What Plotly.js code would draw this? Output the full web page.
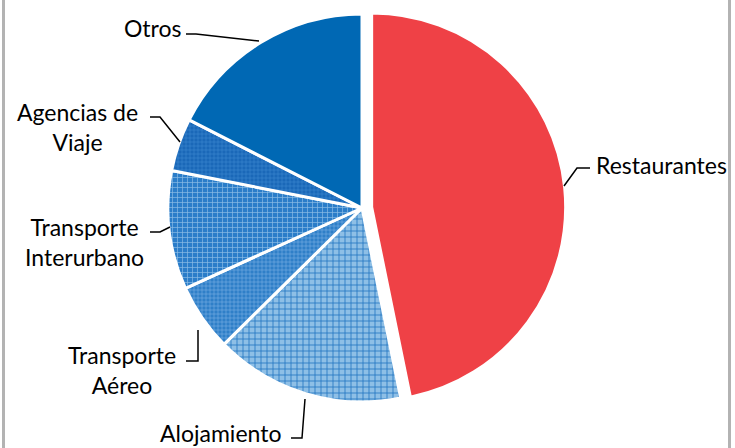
<!DOCTYPE html>
<html>
<head>
<meta charset="utf-8">
<script src="https://cdn.plot.ly/plotly-3.0.1.min.js"></script>
<style>html,body{margin:0;padding:0;background:#fff;}#chart{width:735px;height:448px;}</style>
</head>
<body>
<div id="chart"></div>
<script>
var categories = ["Restaurantes", "Alojamiento", "Transporte Aéreo", "Transporte Interurbano", "Agencias de Viaje", "Otros"];
var values = [46.8, 15.8, 5.6, 9.9, 4.4, 17.5];
var labelTexts = ["Restaurantes", "Alojamiento", "Transporte<br>Aéreo", "Transporte<br>Interurbano", "Agencias de<br>Viaje", "Otros"];

var W = 735, H = 448;
function px(x){ return x / W; }
function py(y){ return 1 - y / H; }

var sliceColors = ["#ef4146", "#8ebfe6", "#2f7fc8", "#2b7dc9", "#1a68b8", "#0068b4"];
var patShapes = ["", "+", "+", "+", "+", ""];
var patFg = ["#ef4146", "#1f72c0", "#7fb3e2", "#8bbbe6", "#3f88d0", "#0068b4"];
var patSize = [6, 6, 4, 5, 4, 6];

var R = 194, CX = 362, CY = 208, PULL = 0.05;
var half = R * (1 + PULL);

var trace = {
  type: "pie",
  labels: categories,
  values: values,
  sort: false,
  direction: "clockwise",
  rotation: 0,
  pull: [PULL, 0, 0, 0, 0, 0],
  textinfo: "none",
  hoverinfo: "label+percent",
  showlegend: false,
  domain: {x: [px(CX - half - 5), px(CX + half + 5)], y: [py(CY + half), py(CY - half)]},
  marker: {
    colors: sliceColors,
    line: {color: "#ffffff", width: 3},
    pattern: {
      shape: patShapes,
      fgcolor: patFg,
      bgcolor: sliceColors,
      size: patSize,
      solidity: 0.25,
      fillmode: "replace"
    }
  }
};

var font = {family: "Lato, 'Open Sans', sans-serif", size: 23, color: "#000000"};

var labelPos = [
  {x: 594, y: 165, xa: "left"},
  {x: 220, y: 433, xa: "center"},
  {x: 122, y: 370, xa: "center"},
  {x: 84, y: 242, xa: "center"},
  {x: 77, y: 127, xa: "center"},
  {x: 153, y: 28, xa: "center"}
];
var annotations = categories.map(function(c, i){
  return {
    xref: "paper", yref: "paper",
    x: px(labelPos[i].x), y: py(labelPos[i].y),
    xanchor: labelPos[i].xa, yanchor: "middle",
    text: labelTexts[i], showarrow: false, align: "center", font: font
  };
});

var leaders = [
  [[590,168],[577,168],[564,186]],
  [[291,438],[302,438],[305,399]],
  [[186,361],[198,361],[198,330]],
  [[150,232],[160,232],[170,227]],
  [[150,117],[160,117],[180,142]],
  [[186,34],[196,34],[259,41]]
];
var shapes = leaders.map(function(pts){
  var d = pts.map(function(p, k){ return (k ? "L" : "M") + px(p[0]) + "," + py(p[1]); }).join(" ");
  return {type: "path", xref: "paper", yref: "paper", path: d, line: {color: "#000000", width: 1.5}};
});
shapes.push({type: "line", xref: "paper", yref: "paper", x0: px(3.5), x1: px(3.5), y0: 0, y1: 1, line: {color: "#b3b3b3", width: 3}});
shapes.push({type: "line", xref: "paper", yref: "paper", x0: px(729.5), x1: px(729.5), y0: 0, y1: 1, line: {color: "#b3b3b3", width: 3}});

var layout = {
  width: W, height: H,
  margin: {l: 0, r: 0, t: 0, b: 0},
  paper_bgcolor: "#ffffff",
  annotations: annotations,
  shapes: shapes
};

Plotly.newPlot("chart", [trace], layout, {displayModeBar: false, staticPlot: true});
</script>
</body>
</html>
